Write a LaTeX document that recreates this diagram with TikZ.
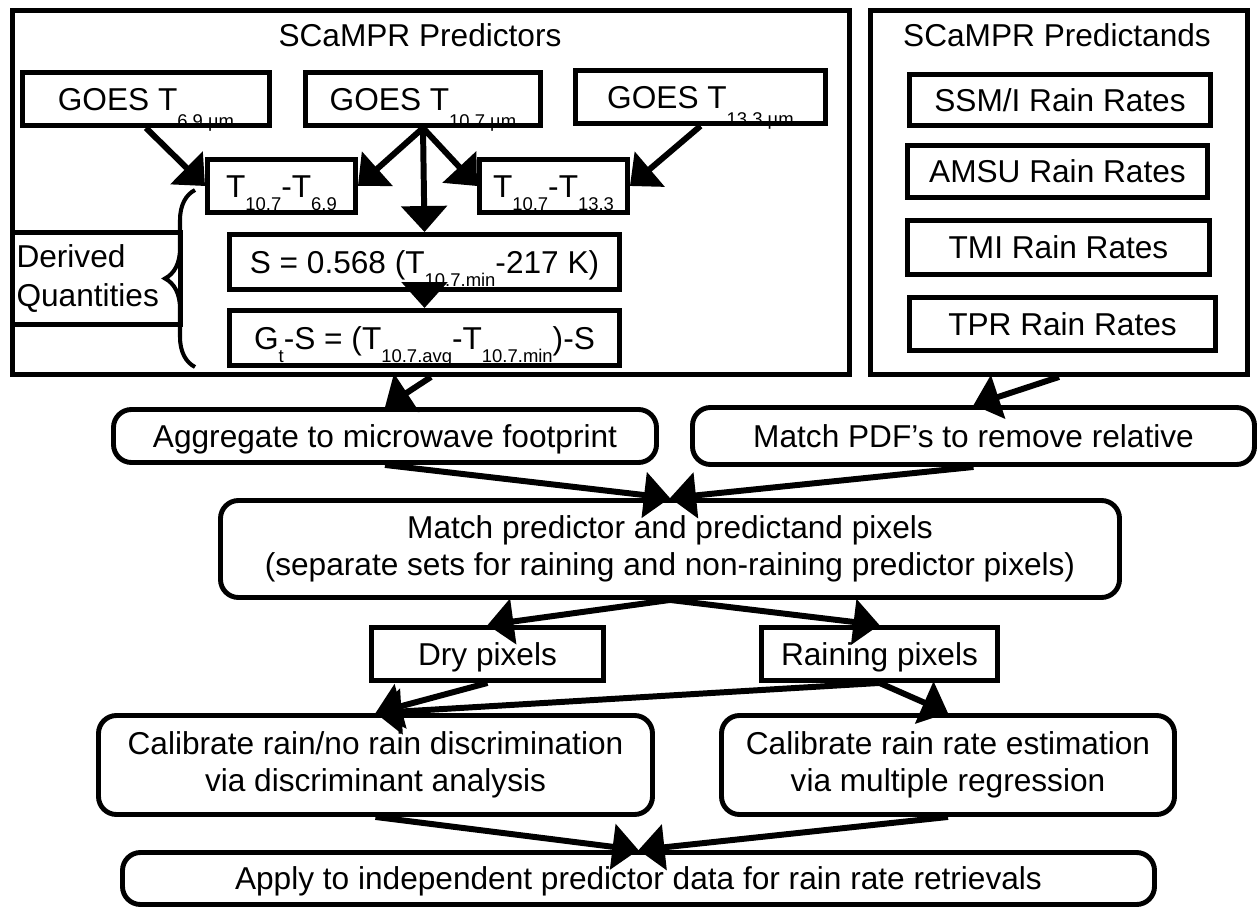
\documentclass[tikz,border=0pt]{standalone}
\usepackage{fontspec}
\setmainfont{Liberation Sans}
\usetikzlibrary{arrows.meta,decorations.pathreplacing}

\newcommand{\boxfont}{\fontsize{18}{21}\selectfont}
% lowered small index, as in T_{10.7}
\newcommand{\lsub}[2][0.27cm]{\raisebox{-#1}[0pt][0pt]{\fontsize{10.5}{12}\selectfont #2}}

\begin{document}
\begin{tikzpicture}[x=0.02cm,y=-0.02cm,
  sz/.style 2 args={minimum width={#1*0.02cm}, minimum height={#2*0.02cm}},
  box/.style={draw, line width=2.8pt, inner sep=0pt, font=\boxfont, align=center},
  capline/.style={text height=12.9pt, text depth=0pt},
  round/.style={box, rounded corners=0.36cm},
  flow/.style={line width=3.4pt, -{Triangle[length=0.52cm,width=0.9cm]}},
]
\useasboundingbox (0,0) rectangle (1259,909);

	%Outer frames and their titles
	\node[box, sz={837}{364}] (pred) at (431,192.5) {};
	\node[box, sz={377}{364}] (pdand) at (1059,192.5) {};
	\node[font=\boxfont] (predT) at (420,35) {SCaMPR Predictors};
	\node[font=\boxfont] (pdandT) at (1057,35) {SCaMPR Predictands};

	%GOES channels
	\node[box, capline, sz={247}{53}] (g69) at (146,99) {GOES T\lsub[0.34cm]{6.9 µm}};
	\node[box, capline, sz={235}{53}] (g107) at (423,99) {GOES T\lsub[0.34cm]{10.7 µm}};
	\node[box, capline, sz={250}{53}] (g133) at (700.5,97) {GOES T\lsub[0.34cm]{13.3 µm}};

	%Derived quantities
	\node[box, capline, sz={148}{53}] (d69) at (281.5,186) {T\lsub{10.7}-T\lsub{6.9}};
	\node[box, capline, sz={148}{53}] (d133) at (553.5,186) {T\lsub{10.7}-T\lsub{13.3}};
	\node[box, capline, sz={390}{55}] (sfac) at (424.5,262) {S = 0.568 (T\lsub{10.7.min}-217 K)};
	\node[box, capline, sz={390}{55}] (gts) at (424.5,338) {G\lsub{t}-S = (T\lsub{10.7.avg}-T\lsub{10.7.min})-S};
	\node[box, sz={168}{92}, align=left, text width=3.2cm, inner xsep=0.08cm,
	      font=\fontsize{18}{22.5}\selectfont] (dq) at (96.5,278.5) {Derived\\Quantities};
	\draw[line width=2.3pt, decorate, decoration={brace, amplitude=0.6cm}] (195,367) -- (195,190);

	%Predictands
	\node[box, capline, sz={301}{51}] (ssmi) at (1060,100) {SSM/I Rain Rates};
	\node[box, capline, sz={300}{52}] (amsu) at (1057.5,171.5) {AMSU Rain Rates};
	\node[box, capline, sz={302}{54}] (tmi) at (1058.5,247.5) {TMI Rain Rates};
	\node[box, capline, sz={306}{53}] (tpr) at (1062.5,324) {TPR Rain Rates};

	%Processing steps
	\node[round, capline, sz={543}{53}] (agg) at (385,436) {Aggregate to microwave footprint};
	\node[round, capline, sz={562}{57}] (mpdf) at (973.5,436) {Match PDF’s to remove relative};
	\node[round, sz={899}{97}] (match) at (670,549) {Match predictor and predictand pixels\\(separate sets for raining and non-raining predictor pixels)};
	\node[box, capline, sz={232}{53}] (dry) at (487.5,654) {Dry pixels};
	\node[box, capline, sz={236}{53}] (rain) at (879.5,654) {Raining pixels};
	\node[round, sz={554}{99}] (cal1) at (375.5,765) {Calibrate rain/no rain discrimination\\via discriminant analysis};
	\node[round, sz={453}{99}] (cal2) at (948,765) {Calibrate rain rate estimation\\via multiple regression};
	\node[round, capline, sz={1032}{52}] (apply) at (638.5,878.5) {Apply to independent predictor data for rain rate retrievals};

	%Arrows
	\draw[flow] (g69.south) -- (d69.west);
	\draw[flow] (g107.south) -- (d69.east);
	\draw[flow] (g107.south) -- (d133.west);
	\draw[flow] (g107.south) -- (sfac.north);
	\draw[flow] (g133.south) -- (d133.east);
	\draw[flow] (sfac.south) -- (gts.north);
	\draw[flow] (pred.south) -- (agg.north);
	\draw[flow] (pdand.south) -- (mpdf.north);
	\draw[flow] (agg.south) -- (match.north);
	\draw[flow] (mpdf.south) -- (match.north);
	\draw[flow] (match.south) -- (dry.north);
	\draw[flow] (match.south) -- (rain.north);
	\draw[flow] (dry.south) -- (cal1.north);
	\draw[flow] (rain.south) -- (cal1.north);
	\draw[flow] (rain.south) -- (cal2.north);
	\draw[flow] (cal1.south) -- (apply.north);
	\draw[flow] (cal2.south) -- (apply.north);

\end{tikzpicture}
\end{document}
